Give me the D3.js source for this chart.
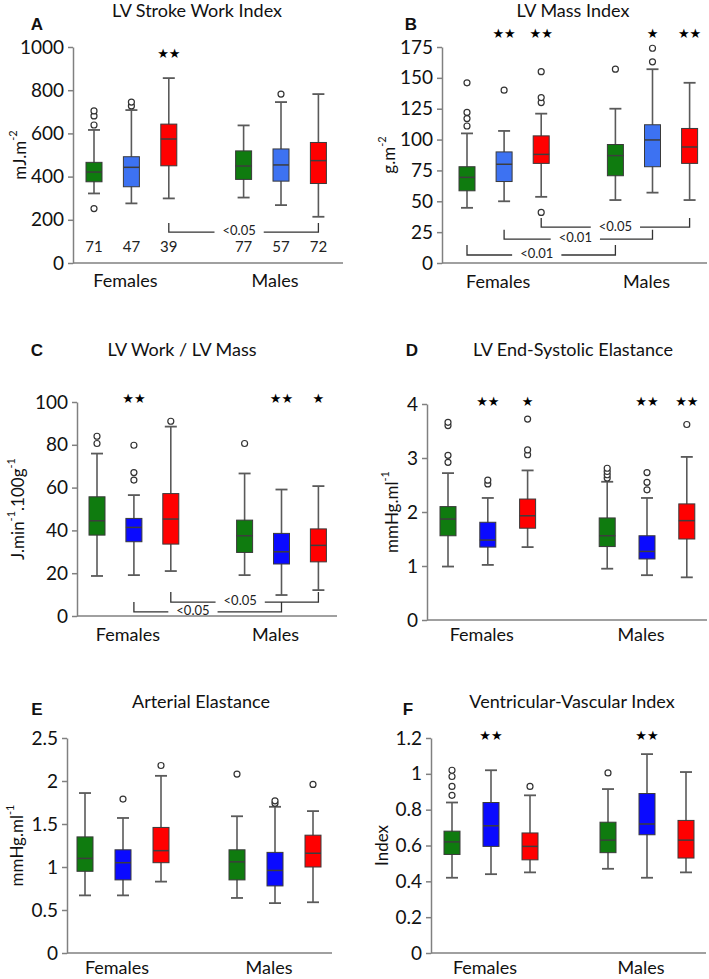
<!DOCTYPE html>
<html><head><meta charset="utf-8">
<script src="https://cdn.jsdelivr.net/npm/d3@7"></script>
<style>
body{margin:0;background:#fff;}
svg{display:block;font-family:Lato,"Open Sans",sans-serif;}
</style>
</head><body>
<svg id="c" width="709" height="979"></svg>
<script>
// ---------- data ----------
const groups = ["Females green","Females blue","Females red","Males green","Males blue","Males red"];
const sexLabels = ["Females","Males"];
const slots = [0,1,2,4,5,6];

// A: LV Stroke Work Index  [low, q1, median, q3, high]
const aBoxes = [[322,376,421,466,616],[276,353,443,492,708],[299,450,574,643,856],
                [303,387,449,519,637],[268,379,454,528,745],[214,368,474,558,782]];
const aOutliers = [[252,639,681,704],[727,745],[],[],[782],[]];
const aStars = ["","","★★","","",""];
const aN = [71,47,39,77,57,72];
const aTicks = [0,200,400,600,800,1000];

// B: LV Mass Index
const bBoxes = [[44.7,58.5,69.4,78,105],[50,66,80,90,107],[53.6,80.7,88,103,121],
                [51,70.7,87,96,125],[57,78,99.7,112,157],[51,80.7,94,109,146]];
const bOutliers = [[111,117,122,146],[140],[41,130,134,155],[157],[163,174],[]];
const bStars = ["","★★","★★","","★","★★"];
const bTicks = [0,25,50,75,100,125,150,175];

// C: LV Work / LV Mass
const cBoxes = [[18.7,37.8,44.5,55.7,75.9],[19.1,34.7,41.4,45.6,56.5],[21,33.6,45.3,57.2,88.5],
                [19.1,29.7,37.5,44.8,66.6],[9.8,24.3,30,38.6,59.1],[12.1,25.3,33,40.7,60.7]];
const cOutliers = [[80.6,84],[63.5,67,79.8],[91],[80.6],[],[]];
const cStars = ["","★★","","","★★","★"];
const cTicks = [0,20,40,60,80,100];

// D: LV End-Systolic Elastance
const dBoxes = [[0.99,1.56,1.87,2.10,2.72],[1.02,1.35,1.48,1.81,2.26],[1.35,1.70,1.93,2.24,2.77],
                [0.95,1.36,1.56,1.89,2.56],[0.83,1.13,1.27,1.56,2.26],[0.79,1.50,1.84,2.15,3.02]];
const dOutliers = [[2.92,3.05,3.6,3.66],[2.52,2.59],[3.06,3.15,3.72],[2.63,2.69,2.75,2.81],[2.41,2.55,2.73],[3.62]];
const dStars = ["","★★","★","","★★","★★"];
const dTicks = [0,1,2,3,4];

// E: Arterial Elastance
const eBoxes = [[0.67,0.95,1.10,1.35,1.86],[0.67,0.85,1.05,1.20,1.57],[0.83,1.05,1.19,1.46,2.06],
                [0.64,0.85,1.06,1.20,1.59],[0.58,0.78,0.96,1.17,1.70],[0.59,1.00,1.16,1.37,1.65]];
const eOutliers = [[],[1.79],[2.18],[2.08],[1.74,1.77],[1.96]];
const eStars = ["","","","","",""];
const eTicks = [0,0.5,1,1.5,2,2.5];

// F: Ventricular-Vascular Index
const fBoxes = [[0.42,0.55,0.62,0.68,0.84],[0.44,0.595,0.71,0.84,1.02],[0.45,0.52,0.595,0.67,0.88],
                [0.47,0.56,0.63,0.73,0.915],[0.42,0.66,0.72,0.89,1.11],[0.45,0.53,0.63,0.74,1.01]];
const fOutliers = [[0.88,0.93,0.985,1.02],[],[0.93],[1.005],[],[]];
const fStars = ["","★★","","","★★",""];
const fTicks = [0,0.2,0.4,0.6,0.8,1,1.2];

// significance brackets: group indices, level / leg top in data units
const aBrackets = [{from:2,to:5,level:143,leg:185,label:"<0.05",at:0.47}];
const bBrackets = [{from:2,to:5,level:29,leg:36.5,label:"<0.05",at:0.5},
                   {from:1,to:4,level:19.4,leg:27,label:"<0.01",at:0.48},
                   {from:0,to:3,level:6.5,leg:14.6,label:"<0.01",at:0.47}];
const cBrackets = [{from:2,to:5,level:6.5,leg:11.2,label:"<0.05",at:0.47},
                   {from:1,to:4,level:1.9,leg:6.5,label:"<0.05",at:0.4}];

// ---------- styles ----------
const green = "#0f7b0f", red = "#ff0000", blueLight = "#3d72f2", blueDark = "#0a0aff";

const panels = [
 {letter:"A", title:"LV Stroke Work Index", unit:[["mJ.m",0],["-2",1]], boxes:aBoxes, outliers:aOutliers,
  stars:aStars, starLevel:963, ticks:aTicks, yMax:1000, blue:blueLight, n:aN, brackets:aBrackets,
  L:{axisX:73,right:343,top:47,bottom:263,x0:94,dx:37.4,titleX:197,titleY:17,letterX:37,letterY:30,ylabX:19,sexY:287}},
 {letter:"B", title:"LV Mass Index", unit:[["g.m",0],["-2",1]], boxes:bBoxes, outliers:bOutliers,
  stars:bStars, starLevel:185, ticks:bTicks, yMax:175, blue:blueLight, brackets:bBrackets,
  L:{axisX:442,right:707,top:47,bottom:263,x0:467,dx:37.1,titleX:573,titleY:17,letterX:411,letterY:30,ylabX:388,sexY:288}},
 {letter:"C", title:"LV Work / LV Mass", unit:[["J.min",0],["-1",1],[".100g",0],["-1",1]], boxes:cBoxes, outliers:cOutliers,
  stars:cStars, starLevel:101, ticks:cTicks, yMax:100, blue:blueDark, brackets:cBrackets,
  L:{axisX:77,right:337,top:402,bottom:616,x0:97,dx:36.9,titleX:182,titleY:356,letterX:37,letterY:356,ylabX:17,sexY:641}},
 {letter:"D", title:"LV End-Systolic Elastance", unit:[["mmHg.ml",0],["-1",1]], boxes:dBoxes, outliers:dOutliers,
  stars:dStars, starLevel:4.02, ticks:dTicks, yMax:4, blue:blueDark, brackets:[],
  L:{axisX:427,right:707,top:404,bottom:620,x0:448,dx:39.8,titleX:573,titleY:356,letterX:412,letterY:356,ylabX:391,sexY:641}},
 {letter:"E", title:"Arterial Elastance", unit:[["mmHg.ml",0],["-1",1]], boxes:eBoxes, outliers:eOutliers,
  stars:eStars, starLevel:2.5, ticks:eTicks, yMax:2.5, blue:blueDark, brackets:[],
  L:{axisX:67,right:332,top:738,bottom:953,x0:85,dx:38,titleX:201,titleY:708,letterX:37,letterY:715,ylabX:16,sexY:974}},
 {letter:"F", title:"Ventricular-Vascular Index", unit:[["Index",0]], boxes:fBoxes, outliers:fOutliers,
  stars:fStars, starLevel:1.21, ticks:fTicks, yMax:1.2, blue:blueDark, brackets:[],
  L:{axisX:431,right:706,top:738,bottom:953,x0:452,dx:39,titleX:572,titleY:708,letterX:408,letterY:715,ylabX:381,sexY:974}}
];

const svg = d3.select("#c");
const axisCol = "#808080", whiskCol = "#5a5a5a", edgeCol = "#3a3a3a";

panels.forEach(p => {
  const L = p.L;
  const g = svg.append("g");
  const y = d3.scaleLinear().domain([0, p.yMax]).range([L.bottom, L.top]);
  const x = d3.scaleLinear().domain([0, 6]).range([L.x0, L.x0 + 6 * L.dx]);
  const cols = [green, p.blue, red, green, p.blue, red];

  // title & letter
  g.append("text").attr("x", L.titleX).attr("y", L.titleY).attr("text-anchor", "middle")
    .attr("font-size", 18).attr("fill", "#111").text(p.title);
  g.append("text").attr("x", L.letterX).attr("y", L.letterY).attr("text-anchor", "middle")
    .attr("font-size", 17).attr("font-weight", "bold").attr("font-family", "Liberation Sans, Arial, sans-serif")
    .attr("fill", "#111").text(p.letter);

  // y axis
  const ax = g.append("g").attr("transform", `translate(${L.axisX},0)`)
    .call(d3.axisLeft(y).tickValues(p.ticks).tickSize(5).tickSizeOuter(0).tickPadding(4).tickFormat(d => String(d)));
  ax.select(".domain").attr("stroke", axisCol).attr("stroke-width", 1.5);
  ax.selectAll(".tick line").attr("stroke", axisCol).attr("stroke-width", 1.5);
  ax.selectAll(".tick text").attr("font-size", 19).attr("font-family", "Lato, sans-serif").attr("fill", "#111");
  // x baseline
  g.append("line").attr("x1", L.axisX).attr("x2", L.right).attr("y1", y(0)).attr("y2", y(0))
    .attr("stroke", axisCol).attr("stroke-width", 1.5);

  // y label
  const yl = g.append("text").attr("transform", `translate(${L.ylabX},${(L.top + L.bottom) / 2}) rotate(-90)`)
    .attr("text-anchor", "middle").attr("dominant-baseline", "central").attr("font-size", 17).attr("fill", "#111");
  p.unit.forEach(([t, sup]) => {
    const ts = yl.append("tspan").text(t);
    if (sup) ts.attr("font-size", 11).attr("baseline-shift", "super");
  });

  // boxes
  p.boxes.forEach((b, i) => {
    const cx = x(slots[i]);
    const bw = 16, cw = 12;
    g.append("line").attr("x1", cx).attr("x2", cx).attr("y1", y(b[0])).attr("y2", y(b[4]))
      .attr("stroke", whiskCol).attr("stroke-width", 1.6);
    [b[0], b[4]].forEach(v => g.append("line").attr("x1", cx - cw / 2).attr("x2", cx + cw / 2)
      .attr("y1", y(v)).attr("y2", y(v)).attr("stroke", whiskCol).attr("stroke-width", 1.8));
    g.append("rect").attr("x", cx - bw / 2).attr("width", bw).attr("y", y(b[3])).attr("height", y(b[1]) - y(b[3]))
      .attr("fill", cols[i]).attr("stroke", edgeCol).attr("stroke-width", 1);
    g.append("line").attr("x1", cx - bw / 2).attr("x2", cx + bw / 2).attr("y1", y(b[2])).attr("y2", y(b[2]))
      .attr("stroke", "#3d3d3d").attr("stroke-width", 1.5);
    p.outliers[i].forEach(v => g.append("circle").attr("cx", cx).attr("cy", y(v)).attr("r", 3)
      .attr("fill", "#fff").attr("stroke", "#333").attr("stroke-width", 1.2));
    if (p.stars[i]) g.append("text").attr("x", cx).attr("y", y(p.starLevel)).attr("text-anchor", "middle")
      .attr("dominant-baseline", "middle").attr("font-size", 13).attr("font-family", "DejaVu Sans, sans-serif")
      .attr("fill", "#000").text(p.stars[i]);
    if (p.n) g.append("text").attr("x", cx).attr("y", L.bottom - 15).attr("dominant-baseline", "middle")
      .attr("text-anchor", "middle").attr("font-size", 15).attr("fill", "#222").text(p.n[i]);
  });

  // brackets
  p.brackets.forEach(br => {
    const x1 = x(slots[br.from]), x2 = x(slots[br.to]);
    const yl0 = y(br.level), ylt = y(br.leg);
    const lx = x1 + (x2 - x1) * br.at;
    const t = g.append("text").attr("x", lx).attr("y", yl0).attr("text-anchor", "middle")
      .attr("dominant-baseline", "middle").attr("font-size", 13).attr("fill", "#222").text(br.label);
    const w = t.node().getComputedTextLength();
    const st = {stroke: "#333", "stroke-width": 1.3, fill: "none"};
    const path = (d) => { const e = g.append("path").attr("d", d); Object.entries(st).forEach(([k, v]) => e.attr(k, v)); };
    path(`M${x1},${ylt}V${yl0}H${lx - w / 2 - 8}`);
    path(`M${lx + w / 2 + 8},${yl0}H${x2}V${ylt}`);
  });

  // sex labels
  [1, 5].forEach((s, k) => g.append("text").attr("x", x(s) - 6).attr("y", L.sexY).attr("text-anchor", "middle")
    .attr("font-size", 18).attr("fill", "#111").text(sexLabels[k]));
});
</script>
</body></html>
